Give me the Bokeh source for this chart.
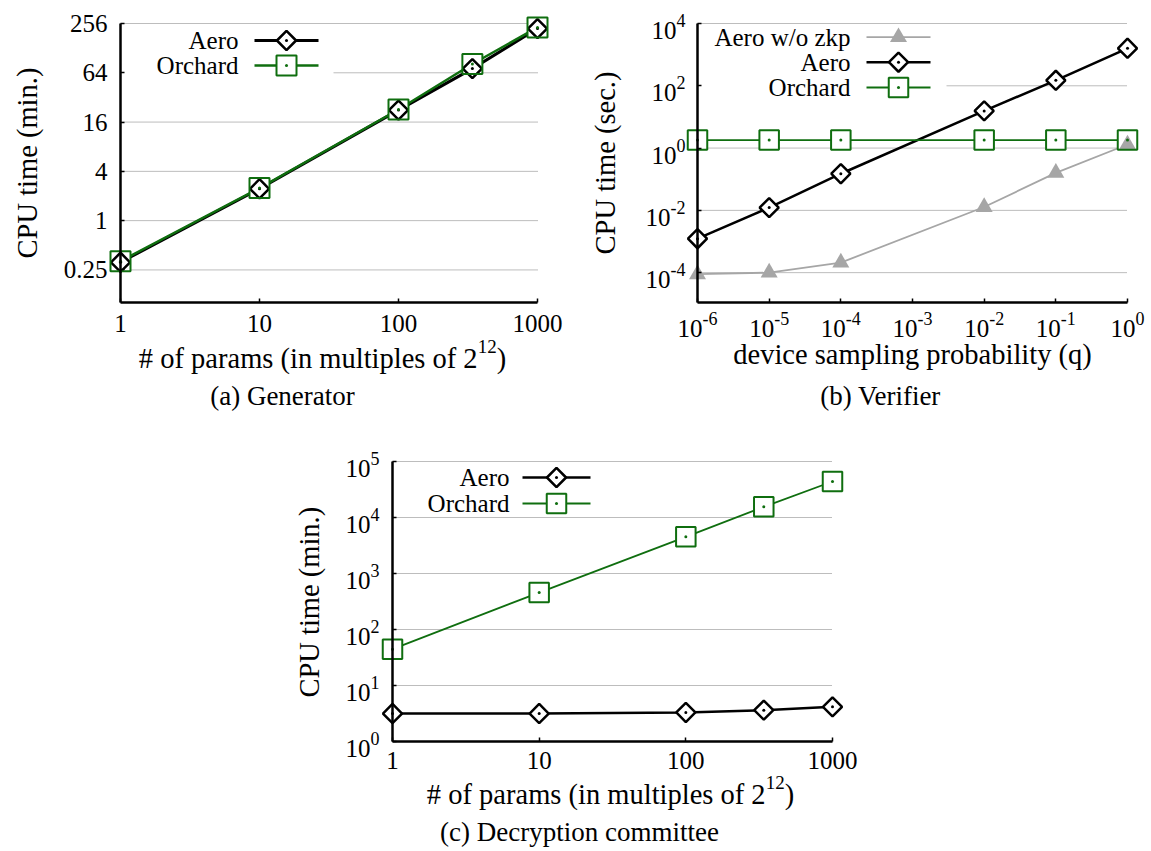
import math
from bokeh.plotting import figure
from bokeh.models import Range1d, FixedTicker, Label, BasicTickFormatter
from bokeh.layouts import column, row
from bokeh.embed import file_html
from bokeh.resources import INLINE

# ---------------- data ----------------
# (a) Generator: CPU time (min.) vs # of params (multiples of 2^12)
gen_params = [1, 10, 100, 340, 1000]
gen_aero = [0.31, 2.45, 22.4, 72, 222]
gen_orchard = [0.32, 2.5, 22.8, 82, 229]
gen_yticks = [0.25, 1, 4, 16, 64, 256]
gen_ytick_labels = ["0.25", "1", "4", "16", "64", "256"]
params_ticks = [1, 10, 100, 1000]
params_tick_labels = ["1", "10", "100", "1000"]

# (b) Verifier: CPU time (sec.) vs device sampling probability q
ver_q = [1e-6, 1e-5, 1e-4, 1e-2, 1e-1, 1.0]
ver_aero_nozkp = [8.9e-5, 1.0e-4, 2.1e-4, 1.28e-2, 0.16, 1.3]
ver_aero = [1.23e-3, 1.23e-2, 0.15, 15.6, 150, 1600]
ver_orchard = [1.8, 1.8, 1.8, 1.8, 1.8, 1.8]
ver_xticks = [1e-6, 1e-5, 1e-4, 1e-3, 1e-2, 1e-1, 1.0]
ver_xtick_exps = ["-6", "-5", "-4", "-3", "-2", "-1", "0"]
ver_yticks = [1e-4, 1e-2, 1.0, 1e2, 1e4]
ver_ytick_exps = ["-4", "-2", "0", "2", "4"]

# (c) Decryption committee: CPU time (min.) vs # of params
dec_params = [1, 10, 100, 340, 1000]
dec_aero = [3.16, 3.16, 3.3, 3.63, 4.16]
dec_orchard = [44.5, 457, 4520, 15500, 43900]
dec_yticks = [1, 10, 100, 1e3, 1e4, 1e5]
dec_ytick_exps = ["0", "1", "2", "3", "4", "5"]

# ---------------- style ----------------
FONT = "Liberation Serif"
TICK_PX = 25
SUP_PX = 18
TITLE_PX = 28.5
LEG_PX = 25
CAP_PX = 27
GREEN = "#0f6e0f"
GRAY = "#a6a6a6"
BLACK = "#000000"
GRID = "#7a7a7a"

CW = {"0": .5, "1": .5, "2": .5, "3": .5, "4": .5, "5": .5, "6": .5, "7": .5,
      "8": .5, "9": .5, "-": .333, "#": .5, " ": .25, "(": .333, ")": .333,
      ".": .25, "a": .444, "c": .444, "d": .5, "e": .444, "f": .333, "i": .278,
      "l": .278, "m": .778, "n": .5, "o": .5, "p": .5, "r": .333, "s": .389,
      "t": .278, "u": .5}


def tw(s, px):
    return sum(CW.get(c, 0.5) for c in s) * px


class Panel:
    """Figure whose frame fills the canvas; the plot box is placed inside it."""

    def __init__(self, W, H, L, R, T, B, xr, yr, xticks, yticks):
        self.W, self.H, self.L, self.R, self.T, self.B = W, H, L, R, T, B
        self.xr, self.yr = xr, yr
        lx0, lx1 = math.log10(xr[0]), math.log10(xr[1])
        ly0, ly1 = math.log10(yr[0]), math.log10(yr[1])
        self.ppx = (R - L) / (lx1 - lx0)
        self.ppy = (B - T) / (ly1 - ly0)
        full_x = (10 ** (lx0 - L / self.ppx), 10 ** (lx1 + (W - R) / self.ppx))
        full_y = (10 ** (ly0 - (H - B) / self.ppy), 10 ** (ly1 + T / self.ppy))
        p = figure(width=W, height=H, x_axis_type="log", y_axis_type="log",
                   x_range=Range1d(*full_x), y_range=Range1d(*full_y),
                   output_backend="svg", toolbar_location=None,
                   min_border=0, min_border_left=0, min_border_right=0,
                   min_border_top=0, min_border_bottom=0)
        p.outline_line_color = None
        p.background_fill_color = "white"
        p.border_fill_color = "white"
        p.xgrid.visible = False
        p.ygrid.visible = False
        xa, ya = p.xaxis[0], p.yaxis[0]
        xa.ticker = FixedTicker(ticks=xticks)
        ya.ticker = FixedTicker(ticks=yticks)
        xa.fixed_location = yr[0]
        ya.fixed_location = xr[0]
        xa.bounds = xr
        ya.bounds = yr
        for ax in (xa, ya):
            ax.axis_line_width = 2.5
            ax.axis_line_color = BLACK
            ax.major_tick_in = 4
            ax.major_tick_out = 0
            ax.major_tick_line_width = 1.5
            ax.major_tick_line_color = BLACK
            ax.minor_tick_line_color = None
            ax.major_label_text_font = FONT
            ax.major_label_text_font_size = f"{TICK_PX}px"
            ax.major_label_text_color = BLACK
        # horizontal dotted grid lines over the plot box only
        p.segment(x0=[xr[0]] * len(yticks), x1=[xr[1]] * len(yticks),
                  y0=yticks, y1=yticks, line_color=GRID, line_dash="1 1",
                  line_width=1, level="underlay")
        self.p = p

    # canvas pixel (top-down) -> data
    def dx(self, cx):
        return 10 ** (math.log10(self.xr[0]) + (cx - self.L) / self.ppx)

    def dy(self, cy):
        return 10 ** (math.log10(self.yr[0]) + (self.B - cy) / self.ppy)

    def lab(self, text, cx, cy, px=TICK_PX, align="left", base="alphabetic",
            angle=0.0, xo=0, yo=0, xdata=None, ydata=None):
        x, xu = (xdata, "data") if xdata is not None else (cx, "screen")
        y, yu = (ydata, "data") if ydata is not None else (self.H - cy, "screen")
        self.p.add_layout(Label(text=text, x=x, y=y, x_units=xu, y_units=yu,
                                text_font=FONT, text_font_size=f"{px}px",
                                text_align=align, text_baseline=base, angle=angle,
                                x_offset=xo, y_offset=yo, text_color=BLACK))

    def hide_labels(self, ax):
        ax.formatter = BasicTickFormatter()
        ax.major_label_text_color = None

    def sup_x_labels(self, ticks, exps, base_cy):
        bw = tw("10", TICK_PX)
        for t, e in zip(ticks, exps):
            total = bw + tw(e, SUP_PX)
            self.lab("10", 0, base_cy, xdata=t, xo=-total / 2)
            self.lab(e, 0, base_cy, px=SUP_PX, xdata=t, xo=-total / 2 + bw, yo=10)

    def sup_y_labels(self, ticks, exps, gap):
        for t, e in zip(ticks, exps):
            we = tw(e, SUP_PX)
            self.lab("10", self.L - gap - we, 0, align="right", ydata=t, yo=-7)
            self.lab(e, self.L - gap, 0, px=SUP_PX, align="right", ydata=t, yo=3)

    def params_title(self, cx, cy):
        main, sup, tail = "# of params (in multiples of 2", "12", ")"
        wm, ws, wt = tw(main, TITLE_PX), tw(sup, 19), tw(tail, TITLE_PX)
        x0 = cx - (wm + ws + wt) / 2
        self.lab(main, x0, cy, px=TITLE_PX)
        self.lab(sup, x0 + wm, cy, px=19, yo=12)
        self.lab(tail, x0 + wm + ws, cy, px=TITLE_PX)

    def ytitle(self, text, cx, cy):
        self.lab(text, cx, cy, px=TITLE_PX, align="center", base="middle",
                 angle=math.pi / 2)

    def legend(self, entries, text_right, x0, x1, xm, rows, box=None):
        p = self.p
        if box is not None:
            bx0, bx1, by0, by1 = box
            p.quad(left=[self.dx(bx0)], right=[self.dx(bx1)],
                   bottom=[self.dy(by1)], top=[self.dy(by0)],
                   fill_color="white", line_color=None)
        for (name, s), cy in zip(entries, rows):
            self.lab(name, text_right, cy, px=LEG_PX, align="right", base="middle")
            yy = self.dy(cy)
            p.line([self.dx(x0), self.dx(x1)], [yy, yy], line_color=s["color"],
                   line_width=s["lw"])
            if s["fill"]:
                p.scatter([self.dx(xm)], [yy], marker=s["marker"], size=s["size"],
                          angle=s["angle"], fill_color=s["color"], line_color=None)
            else:
                p.scatter([self.dx(xm)], [yy], marker=s["marker"], size=s["size"],
                          angle=s["angle"], fill_color="white",
                          line_color=s["color"], line_width=s["mlw"])
                p.scatter([self.dx(xm)], [yy], marker="circle", size=3,
                          fill_color=s["color"], line_color=None)

    def draw_series(self, series):
        p = self.p
        for s in series:
            p.line(s["x"], s["y"], line_color=s["color"], line_width=s["lw"])
        for s in series:
            if not s["fill"]:
                p.scatter(s["x"], s["y"], marker=s["marker"], size=s["size"],
                          angle=s["angle"], fill_color="white", line_color=None)
        for s in series:
            if s["fill"]:
                p.scatter(s["x"], s["y"], marker=s["marker"], size=s["size"],
                          angle=s["angle"], fill_color=s["color"], line_color=None)
            else:
                p.scatter(s["x"], s["y"], marker=s["marker"], size=s["size"],
                          angle=s["angle"], fill_color=None, line_color=s["color"],
                          line_width=s["mlw"])
                p.scatter(s["x"], s["y"], marker="circle", size=3,
                          fill_color=s["color"], line_color=None)


def aero(x, y, lw=3):
    return dict(x=x, y=y, color=BLACK, lw=lw, marker="square", size=13.5,
                mlw=2.5, angle=math.pi / 4, fill=False)


def orchard(x, y, lw=1.8, size=19.5):
    return dict(x=x, y=y, color=GREEN, lw=lw, marker="square", size=size,
                mlw=2, angle=0.0, fill=False)


def nozkp(x, y):
    return dict(x=x, y=y, color=GRAY, lw=1.8, marker="triangle", size=17,
                mlw=1, angle=0.0, fill=True)


# ---------------- (a) Generator ----------------
A = Panel(580, 430, 120, 537, 23, 302, (1, 1000), (0.1, 256), params_ticks, gen_yticks)
A.p.xaxis[0].major_label_overrides = {t: s for t, s in zip(params_ticks, params_tick_labels)}
A.p.yaxis[0].major_label_overrides = {t: s for t, s in zip(gen_yticks, gen_ytick_labels)}
A.p.xaxis[0].major_label_standoff = 12
A.p.yaxis[0].major_label_standoff = 13
sa_aero = aero(gen_params, gen_aero, lw=3)
sa_orch = orchard(gen_params, gen_orchard, lw=2.5, size=20)
A.legend([("Aero", sa_aero), ("Orchard", sa_orch)], 238, 254, 318, 286, [40, 65],
         box=(120, 333, 26, 80))
A.draw_series([sa_aero, sa_orch])
A.ytitle("CPU time (min.)", 27, 162.5)
A.params_title(322, 358)
A.lab("(a) Generator", 282, 395, px=CAP_PX, align="center")

# ---------------- (b) Verifier ----------------
Bp = Panel(571, 430, 117, 547, 23, 302, (1e-6, 1.0), (1.1e-5, 1e4), ver_xticks, ver_yticks)
Bp.hide_labels(Bp.p.xaxis[0])
Bp.hide_labels(Bp.p.yaxis[0])
sb_nozkp = nozkp(ver_q, ver_aero_nozkp)
sb_aero = aero(ver_q, ver_aero, lw=2.5)
sb_orch = orchard(ver_q, ver_orchard, lw=1.8, size=19.5)
Bp.legend([("Aero w/o zkp", sb_nozkp), ("Aero", sb_aero), ("Orchard", sb_orch)],
          270, 286, 350, 318, [36.7, 61.7, 87], box=(117, 366, 26, 98))
Bp.draw_series([sb_nozkp, sb_aero, sb_orch])
Bp.sup_x_labels(ver_xticks, ver_xtick_exps, 328)
Bp.sup_y_labels(ver_yticks, ver_ytick_exps, 12)
Bp.ytitle("CPU time (sec.)", 25, 162.5)
Bp.lab("device sampling probability (q)", 332, 354, px=TITLE_PX, align="center")
Bp.lab("(b) Verifier", 300, 395, px=CAP_PX, align="center")

# ---------------- (c) Decryption committee ----------------
C = Panel(1151, 421, 392, 832, 31, 311, (1, 1000), (1, 1e5), params_ticks, dec_yticks)
C.p.xaxis[0].major_label_overrides = {t: s for t, s in zip(params_ticks, params_tick_labels)}
C.p.xaxis[0].major_label_standoff = 10
C.hide_labels(C.p.yaxis[0])
sc_aero = aero(dec_params, dec_aero, lw=2.5)
sc_orch = orchard(dec_params, dec_orchard, lw=1.8, size=19.5)
C.legend([("Aero", sc_aero), ("Orchard", sc_orch)], 509, 522, 590, 556, [47, 73])
C.draw_series([sc_aero, sc_orch])
C.sup_y_labels(dec_yticks, dec_ytick_exps, 13)
C.ytitle("CPU time (min.)", 309, 171.7)
C.params_title(610, 364)
C.lab("(c) Decryption committee", 579, 401, px=CAP_PX, align="center")

layout = column(row(A.p, Bp.p, spacing=0), C.p, spacing=0)
open("out.html", "w").write(file_html(layout, INLINE))
